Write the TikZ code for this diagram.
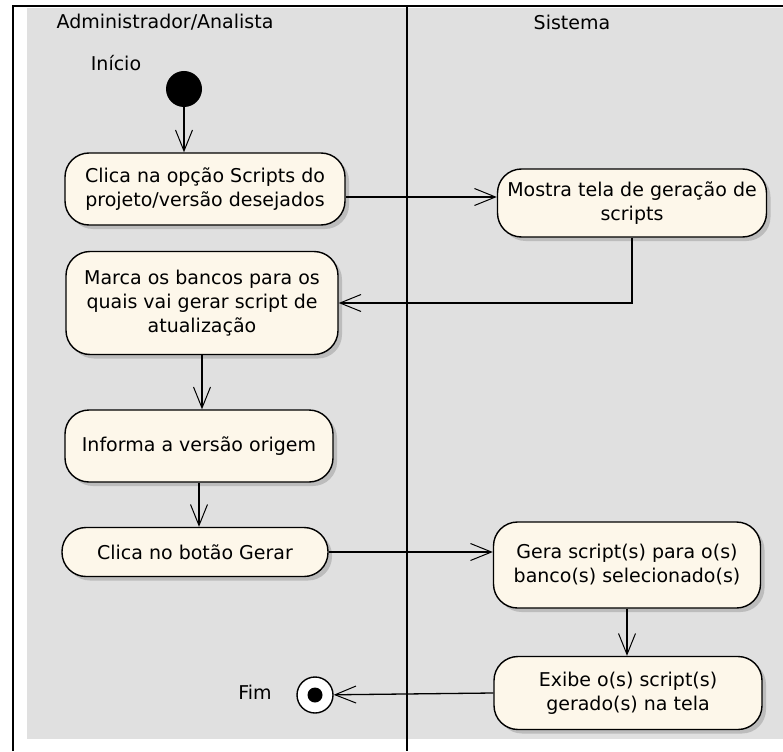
\documentclass[tikz,border=0pt]{standalone}
\usepackage{fontspec}
\setmainfont{DejaVu Sans}
\definecolor{umlcream}{RGB}{253,247,234}
\definecolor{umlgray}{RGB}{224,224,224}
\definecolor{umlshadow}{RGB}{188,188,188}
\usetikzlibrary{arrows.meta,positioning,shadows}

\begin{document}
\begin{tikzpicture}[
  x=1pt,y=-1pt,
  every node/.style={font=\fontsize{19}{24}\selectfont},
  acao/.style={draw,line width=1.4pt,rounded corners=24pt,fill=umlcream,align=center,inner sep=2pt,
               drop shadow={shadow xshift=4pt,shadow yshift=-4pt,fill=umlshadow,opacity=1}},
  fluxo/.style={line width=1.3pt,-{Straight Barb[length=21pt,width=17pt,line width=1pt]}},
]
  \useasboundingbox (0,0) rectangle (783,751);
  % Swimlanes
  \fill[umlgray] (27,8) rectangle (783,739);
  \draw[line width=2.5pt] (13,751) -- (13,6) -- (783,6);
  \draw[line width=1.8pt] (407,6) -- (407,751);
  \node (raia1) at (165,22) {Administrador/Analista};
  \node (raia2) at (572,22) {Sistema};
  % Start
  \node[circle,fill=black,minimum size=36pt,inner sep=0pt] (inicio) at (184,89) {};
  \node (lblinicio) at (116,63) {Início};
  % Box 1
  \node[acao,minimum width=280pt,minimum height=72pt] (b1) at (205,189) {%
    Clica na opção Scripts do\\projeto/versão desejados};
  % Box 2
  \node[acao,minimum width=269pt,minimum height=68pt] (b2) at (632,203) {%
    Mostra tela de geração de\\scripts};
  % Box 3
  \node[acao,minimum width=272pt,minimum height=103pt] (b3) at (202,303) {%
    Marca os bancos para os\\quais vai gerar script de\\atualização};
  % Box 4
  \node[acao,minimum width=268pt,minimum height=72pt] (b4) at (199,446) {%
    Informa a versão origem};
  % Box 5
  \node[acao,minimum width=266pt,minimum height=49pt] (b5) at (195,552) {%
    Clica no botão Gerar};
  % Box 6
  \node[acao,minimum width=267pt,minimum height=86pt] (b6) at (627,565) {%
    Gera script(s) para o(s)\\banco(s) selecionado(s)};
  % Box 7
  \node[acao,minimum width=268pt,minimum height=73pt] (b7) at (628,693) {%
    Exibe o(s) script(s)\\gerado(s) na tela};
  % End
  \node[circle,draw,line width=1.4pt,fill=white,minimum size=36pt,inner sep=0pt] (fim) at (315,695) {};
  \node[circle,fill=black,minimum size=15pt,inner sep=0pt] (fimdot) at (fim) {};
  \node (lblfim) at (255,692) {Fim};
  % Flow
  \draw[fluxo] (inicio) -- (inicio |- b1.north);
  \draw[fluxo] ([yshift=-8pt]b1.east) -- ([yshift=-8pt]b1.east -| b2.west);
  \draw[fluxo] (b2.south) |- (b3.east);
  \draw[fluxo] (b3.south) -- (b3.south |- b4.north);
  \draw[fluxo] (b4.south) -- (b4.south |- b5.north);
  \draw[fluxo] (b5.east) -- (b5.east -| b6.west);
  \draw[fluxo] (b6.south) -- (b6.south |- b7.north);
  \draw[fluxo] (b7.west) -- (fim);
\end{tikzpicture}
\end{document}
